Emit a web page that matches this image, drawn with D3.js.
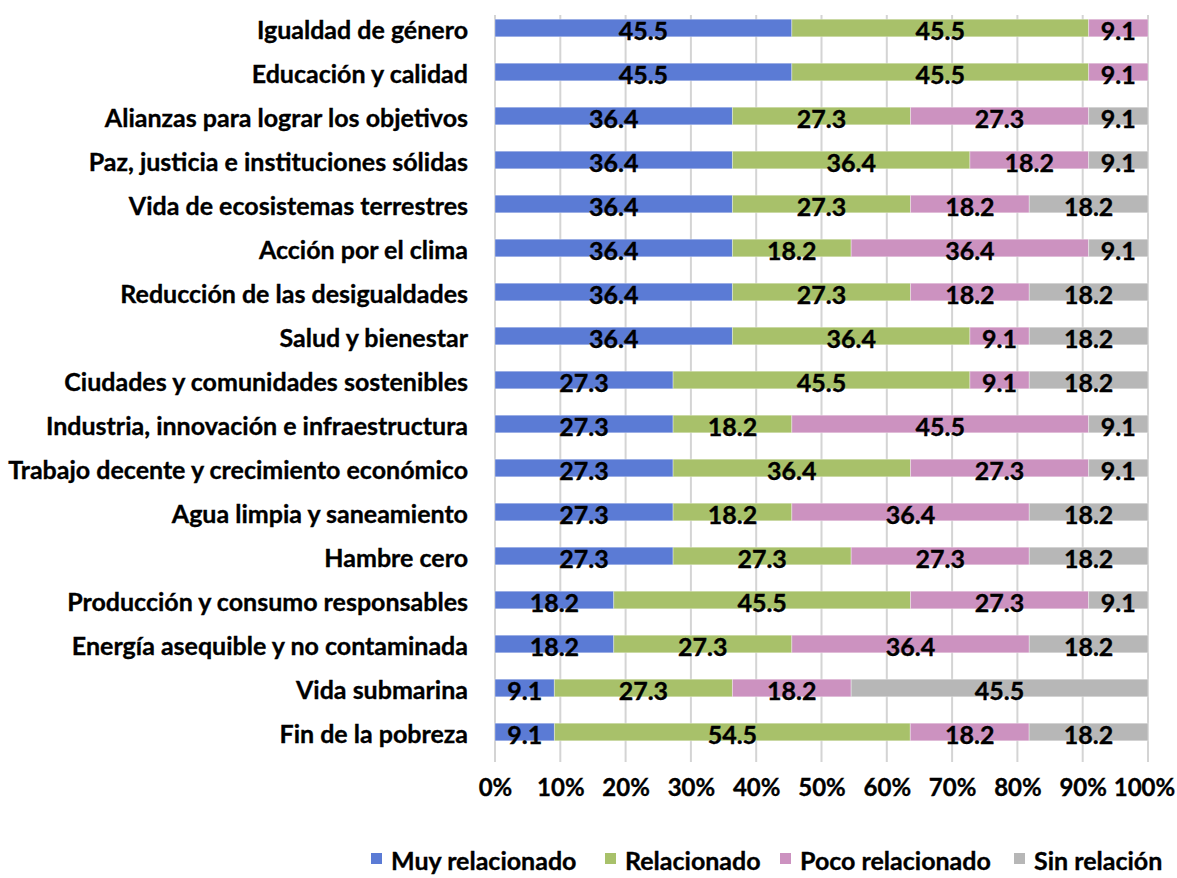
<!DOCTYPE html>
<html>
<head>
<meta charset="utf-8">
<script src="https://cdn.jsdelivr.net/npm/d3@7"></script>
<style>
  body { margin: 0; background: #fff; }
  svg text { font-family: Lato, "Open Sans", sans-serif; font-weight: bold; fill: #000; stroke: #000; stroke-width: 0.35px; }
</style>
</head>
<body>
<div id="chart"></div>
<script>
const categories = [
  "Igualdad de género",
  "Educación y calidad",
  "Alianzas para lograr los objetivos",
  "Paz, justicia e instituciones sólidas",
  "Vida de ecosistemas terrestres",
  "Acción por el clima",
  "Reducción de las desigualdades",
  "Salud y bienestar",
  "Ciudades y comunidades sostenibles",
  "Industria, innovación e infraestructura",
  "Trabajo decente y crecimiento económico",
  "Agua limpia y saneamiento",
  "Hambre cero",
  "Producción y consumo responsables",
  "Energía asequible y no contaminada",
  "Vida submarina",
  "Fin de la pobreza"
];

const seriesNames = ["Muy relacionado", "Relacionado", "Poco relacionado", "Sin relación"];
const seriesColors = ["#5b7bd5", "#a8c16a", "#cc92c0", "#b7b7b7"];

const muyRelacionado = [45.5, 45.5, 36.4, 36.4, 36.4, 36.4, 36.4, 36.4, 27.3, 27.3, 27.3, 27.3, 27.3, 18.2, 18.2, 9.1, 9.1];
const relacionado    = [45.5, 45.5, 27.3, 36.4, 27.3, 18.2, 27.3, 36.4, 45.5, 18.2, 36.4, 18.2, 27.3, 45.5, 27.3, 27.3, 54.5];
const pocoRelacionado = [9.1, 9.1, 27.3, 18.2, 18.2, 36.4, 18.2, 9.1, 9.1, 45.5, 27.3, 36.4, 27.3, 27.3, 36.4, 18.2, 18.2];
const sinRelacion    = [0, 0, 9.1, 9.1, 18.2, 9.1, 18.2, 18.2, 18.2, 9.1, 9.1, 18.2, 18.2, 9.1, 18.2, 45.5, 18.2];

const tickValues = [0, 0.1, 0.2, 0.3, 0.4, 0.5, 0.6, 0.7, 0.8, 0.9, 1];

const W = 1177, H = 878;
const margin = { top: 6, right: 29, bottom: 124, left: 495 };
const width = W - margin.left - margin.right;
const height = H - margin.top - margin.bottom;
const fontSize = "25px";

const svg = d3.select("#chart").append("svg")
  .attr("width", W).attr("height", H);
const g = svg.append("g").attr("transform", `translate(${margin.left},${margin.top})`);

// rows as proportions
const rows = categories.map((c, i) => {
  const vals = [muyRelacionado[i], relacionado[i], pocoRelacionado[i], sinRelacion[i]];
  const total = d3.sum(vals);
  const row = { cat: c };
  seriesNames.forEach((s, k) => { row[s] = vals[k] / total; row[s + "_raw"] = vals[k]; });
  return row;
});
const stacked = d3.stack().keys(seriesNames)(rows);

const x = d3.scaleLinear().domain([0, 1]).range([0, width]);
const y = d3.scaleBand().domain(categories).range([0, height]).paddingInner(0.6).paddingOuter(0.3);

// gridlines
g.append("g").selectAll("line").data(tickValues).join("line")
  .attr("x1", d => x(d)).attr("x2", d => x(d))
  .attr("y1", 9).attr("y2", height + 8)
  .attr("stroke", "#d4d4d4").attr("stroke-width", 2);

// bars
const layers = g.selectAll(".layer").data(stacked).join("g")
  .attr("class", "layer").attr("fill", (d, i) => seriesColors[i]);
layers.selectAll("rect").data(d => d.filter(p => p[1] - p[0] > 0)).join("rect")
  .attr("x", d => x(d[0]))
  .attr("width", d => x(d[1]) - x(d[0]))
  .attr("y", d => y(d.data.cat))
  .attr("height", y.bandwidth())
  .attr("stroke", "rgba(255,255,255,0.35)").attr("stroke-width", 1);

// data labels
layers.each(function (layer) {
  d3.select(this).selectAll("text").data(layer.filter(p => p[1] - p[0] > 0)).join("text")
    .attr("x", d => x((d[0] + d[1]) / 2))
    .attr("y", d => y(d.data.cat) + y.bandwidth() / 2 + 12)
    .attr("text-anchor", "middle")
    .style("font-size", fontSize)
    .text(d => d.data[layer.key + "_raw"].toFixed(1));
});

// category labels
g.append("g").selectAll("text").data(categories).join("text")
  .attr("x", -27)
  .attr("y", d => y(d) + y.bandwidth() / 2 + 2)
  .attr("dy", "0.35em")
  .attr("text-anchor", "end")
  .style("font-size", fontSize)
  .text(d => d);

// x axis
const xAxis = g.append("g")
  .attr("transform", `translate(0,${height})`)
  .call(d3.axisBottom(x).tickValues(tickValues).tickFormat(d3.format(".0%")).tickSize(0));
xAxis.select(".domain").remove();
xAxis.selectAll("text").attr("y", 34).attr("dy", "0.35em")
  .style("font-size", "24px").attr("fill", "#000")
  .attr("dx", d => d === 1 ? -4 : 0);

// legend
const legendX = [371, 605, 780, 1014];
const legend = svg.append("g").selectAll("g").data(seriesNames).join("g")
  .attr("transform", (d, i) => `translate(${legendX[i]},853)`);
legend.append("rect").attr("width", 11).attr("height", 11).attr("fill", (d, i) => seriesColors[i]);
legend.append("text").attr("x", 20).attr("y", 8).attr("dy", "0.35em")
  .style("font-size", fontSize).text(d => d);
</script>
</body>
</html>
